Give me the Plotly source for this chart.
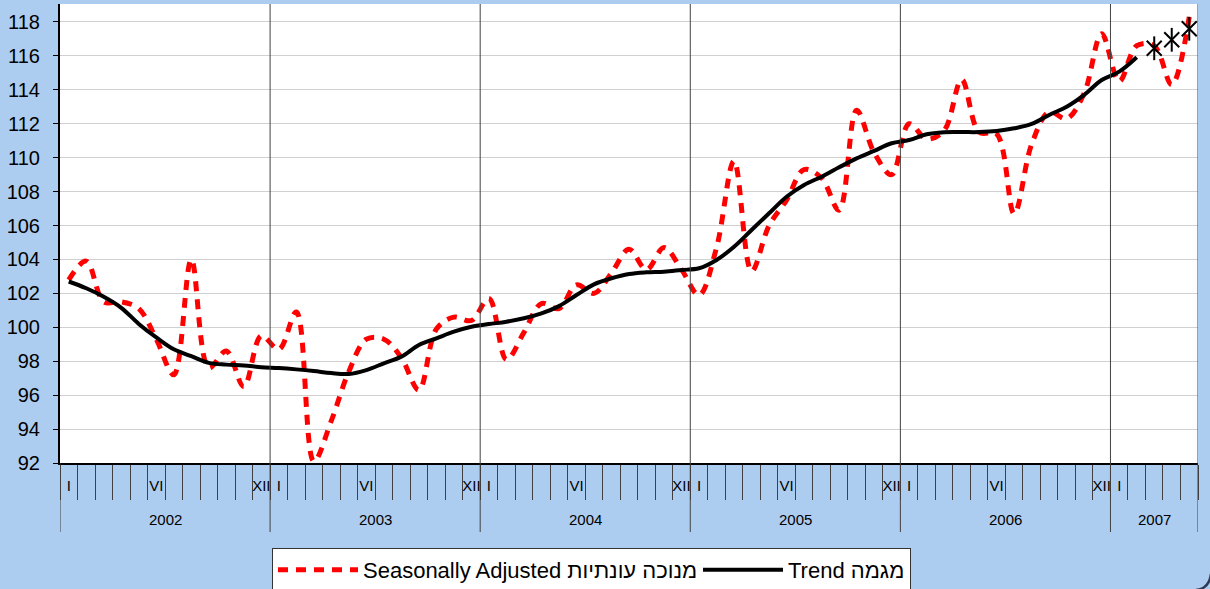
import plotly.graph_objects as go

# ---- data ----
years = [2002, 2003, 2004, 2005, 2006, 2007]
months_per_year = [12, 12, 12, 12, 12, 5]
month_labels = {1: "I", 6: "VI", 12: "XII"}

seasonally_adjusted = [
    102.8, 103.9, 101.5, 101.5, 101.1, 99.3, 97.2, 104.0, 97.6, 98.6, 96.5, 99.5,      # 2002
    98.7, 100.9, 92.1, 94.5, 97.4, 99.3, 99.3, 98.2, 96.3, 99.9, 100.6, 100.4,        # 2003
    101.7, 98.1, 99.7, 101.4, 101.1, 102.5, 102.0, 103.2, 104.6, 103.4, 104.7, 103.4, # 2004
    101.9, 104.7, 109.8, 103.3, 106.0, 107.5, 109.3, 108.8, 106.9, 112.8, 110.3, 109.0, # 2005
    112.0, 111.1, 111.6, 114.6, 111.5, 111.4, 106.7, 110.8, 112.7, 112.3, 113.8, 117.3, # 2006
    114.5, 116.6, 116.6, 114.3, 118.3,                                               # 2007
]

trend = [
    102.7, 102.3, 101.8, 101.15, 100.2, 99.4, 98.7, 98.3, 97.9, 97.8, 97.75, 97.65,
    97.6, 97.52, 97.42, 97.3, 97.25, 97.48, 97.88, 98.27, 98.96, 99.35, 99.74, 100.03,
    100.19, 100.33, 100.53, 100.82, 101.25, 101.9, 102.53, 102.89, 103.14, 103.24, 103.28, 103.38,
    103.48, 103.97, 104.75, 105.74, 106.72, 107.7, 108.39, 108.88, 109.43, 109.96, 110.4, 110.85,
    111.04, 111.38, 111.5, 111.51, 111.51, 111.57, 111.73, 111.99, 112.52, 113.0, 113.7, 114.58,
    115.07, 115.92,
]

trend_forecast = [116.45, 116.95, 117.6]   # Mar-May 2007 (star markers)

y_ticks = list(range(92, 119, 2))

# ---- derived category positions ----
month_idx = []
month_num = []
for y, n in zip(years, months_per_year):
    for m in range(1, n + 1):
        month_idx.append(len(month_idx))
        month_num.append(m)

x_sa = month_idx[:len(seasonally_adjusted)]
x_trend = month_idx[:len(trend)]
x_fc = month_idx[len(trend):len(trend) + len(trend_forecast)]

label_pos = [i for i, m in zip(month_idx, month_num) if m in month_labels]
label_txt = [month_labels[m] for m in month_num if m in month_labels]
boundaries = [i - 0.5 for i in month_idx] + [month_idx[-1] + 0.5]

year_starts = []
s = 0
for n in months_per_year:
    year_starts.append(s)
    s += n
year_bounds = [v - 0.5 for v in year_starts] + [s - 0.5]
year_centers = [(year_bounds[k] + year_bounds[k + 1]) / 2 for k in range(len(years))]

FONT = "Liberation Sans, Arial, sans-serif"
BG = "#ADCDF0"
W, H = 1210, 589
ML, MR, MT, MB = 60, 12, 4, 126
plot_w = W - ML - MR
plot_h = H - MT - MB


def px_x(px):
    return (px - ML) / plot_w


def px_y(py):
    return (H - MB - py) / plot_h


fig = go.Figure()
fig.add_trace(go.Scatter(
    x=x_sa, y=seasonally_adjusted, mode="lines",
    name="Seasonally Adjusted מנוכה עונתיות",
    line=dict(color="#FF0000", width=5, dash="10px,8px", shape="spline", smoothing=1.0),
    legendwidth=330,
))
fig.add_trace(go.Scatter(
    x=x_trend, y=trend, mode="lines", name="Trend מגמה",
    line=dict(color="black", width=4, shape="spline", smoothing=1.0),
))
fig.add_trace(go.Scatter(
    x=x_fc, y=trend_forecast, mode="markers", showlegend=False,
    marker=dict(symbol="x-thin-open", size=15, color="black", line=dict(color="black", width=2)),
))
fig.add_trace(go.Scatter(
    x=x_fc, y=trend_forecast, mode="markers", showlegend=False,
    marker=dict(symbol="line-ns-open", size=17, color="black", line=dict(color="black", width=2)),
))

shapes = []
below = px_y(532)
for k, b in enumerate(year_bounds):
    shapes.append(dict(type="line", xref="x", yref="paper", x0=b, x1=b,
                       y0=(0 if k == 0 else 1), y1=below,
                       line=dict(color="#404040", width=1), layer="above"))

# rounded chart-area corner visible at the bottom right
corner = "M {:.5f},{:.5f} Q {:.5f},{:.5f} {:.5f},{:.5f}".format(
    px_x(1196), px_y(590), px_x(1209), px_y(589), px_x(1211), px_y(574))
shapes.append(dict(type="path", xref="paper", yref="paper", path=corner,
                   line=dict(color="#2F3B55", width=2.5)))

annotations = []
for yr, c in zip(years, year_centers):
    annotations.append(dict(x=c, xref="x", y=px_y(519), yref="paper",
                            text=str(yr), showarrow=False, yanchor="middle",
                            font=dict(size=15, color="black", family=FONT)))

fig.update_layout(
    width=W, height=H,
    margin=dict(l=ML, r=MR, t=MT, b=MB, autoexpand=False),
    paper_bgcolor=BG, plot_bgcolor="white",
    font=dict(family=FONT, color="black"),
    showlegend=True,
    legend=dict(orientation="h", x=px_x(272), xanchor="left",
                y=px_y(548), yanchor="top",
                bgcolor="white", bordercolor="#333333", borderwidth=1,
                font=dict(size=22, color="black", family=FONT),
                itemwidth=80, traceorder="normal"),
    xaxis=dict(range=[-0.5, month_idx[-1] + 0.5], tickmode="array",
               tickvals=label_pos, ticktext=label_txt, ticks="",
               tickfont=dict(size=15), ticklabelstandoff=8, automargin=False,
               showgrid=False, zeroline=False, showline=True,
               linecolor="black", linewidth=2,
               minor=dict(tickmode="array", tickvals=boundaries, ticks="outside",
                          ticklen=35, tickcolor="#404040", tickwidth=1, showgrid=False)),
    yaxis=dict(range=[92, 119.06], tickmode="array", tickvals=y_ticks,
               ticks="outside", ticklen=5, tickcolor="black", automargin=False,
               tickfont=dict(size=20), ticklabelstandoff=9,
               showline=True, linecolor="black", linewidth=2,
               gridcolor="#D0D0D0", gridwidth=1, zeroline=False),
    shapes=shapes, annotations=annotations,
)

fig.write_html(
    "out.html",
    config={"displayModeBar": False},
    post_script="document.body.style.margin='0';document.body.style.overflow='hidden';",
)
